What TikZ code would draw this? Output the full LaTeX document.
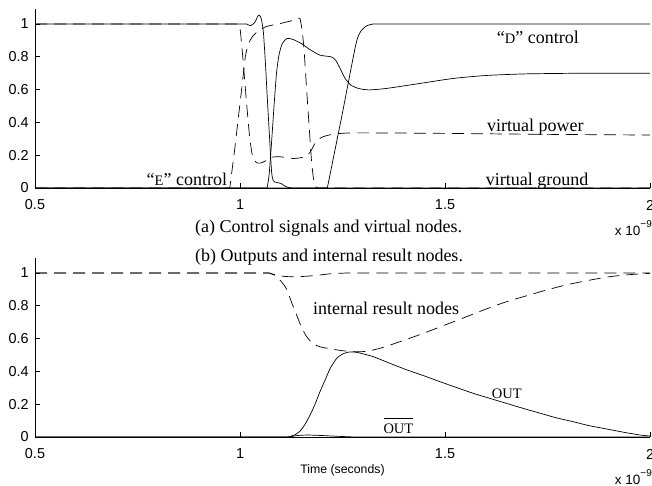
\documentclass[tikz,border=0pt]{standalone}
\usepackage{fontspec}
\setmainfont{Liberation Serif}
\setsansfont{Liberation Sans}

\begin{document}
\begin{tikzpicture}[x=1pt, y=1pt,
        trace/.style={line width=0.7pt, line join=round},
        dtrace/.style={trace, dash pattern=on 12pt off 7pt},
        axisline/.style={line width=0.7pt},
        ticklbl/.style={font=\sffamily\fontsize{14.4}{16}\selectfont, inner sep=0pt},
        note/.style={font=\fontsize{18}{20}\selectfont, inner sep=0pt, anchor=base west},
        caption/.style={font=\fontsize{18}{20}\selectfont, inner sep=0pt},
        smallcap/.style={font=\fontsize{14.5}{16}\selectfont}
    ]
    \useasboundingbox (0,0) rectangle (652,485);

    % both axes
    \foreach \oy in {297,48} {
        \begin{scope}[shift={(-170pt,\oy pt)}, x=410pt, y=164pt]
            \draw[axisline] (0.5,1.09) -- (0.5,0) -- (2,0);
            \foreach \t [count=\i] in {0,0.2,0.4,0.6,0.8,1}
                \draw[axisline] (0.5,\t) -- ++(5pt,0)
                    node[ticklbl, anchor=east, xshift=-11pt] (yt\oy-\i) {\t};
            \foreach \t in {1,1.5,2}
                \draw[axisline] (\t,0) -- ++(0,5pt);
            \foreach \t [count=\i] in {0.5,1,1.5,2}
                \node[ticklbl] (xt\oy-\i) at ([yshift=-17pt]\t,0) {\t};
        \end{scope}
    }

    % (a) control signals
    \begin{scope}[shift={(-170pt,297pt)}, x=410pt, y=164pt]
        \draw[trace] (0.5,1) -- plot[smooth, tension=0.4] coordinates {(1.016,1) (1.026,0.99) (1.036,1.01) (1.043,1.045) (1.047,1.055) (1.052,1.03) (1.057,0.95) (1.062,0.76) (1.067,0.53) (1.072,0.31) (1.077,0.1) (1.081,0.045) (1.09,0.033) (1.1,0.028) (1.108,0.014) (1.118,0.003) (1.13,0)} -- (2,0);
        \draw[trace] (0.5,0) -- plot[smooth, tension=0.4] coordinates {(1.066,0) (1.071,0.08) (1.077,0.28) (1.083,0.5) (1.089,0.7) (1.095,0.81) (1.103,0.88) (1.115,0.912) (1.13,0.905) (1.15,0.88) (1.17,0.845) (1.195,0.81) (1.222,0.8) (1.233,0.78) (1.244,0.73) (1.256,0.67) (1.27,0.628) (1.289,0.607) (1.315,0.598) (1.36,0.608) (1.44,0.638) (1.52,0.668) (1.6,0.686) (1.7,0.696) (1.85,0.7) (2,0.7)};
        \draw[trace] (0.5,0) -- plot[smooth, tension=0.4] coordinates {(1.213,0) (1.25,0.46) (1.283,0.88) (1.296,0.96) (1.31,0.99) (1.325,1)} -- (2,1);
        \draw[dtrace] (0.5,1) -- plot[smooth, tension=0.4] coordinates {(0.995,1) (1.0,0.975) (1.006,0.82) (1.012,0.64) (1.018,0.46) (1.024,0.3) (1.031,0.19) (1.04,0.155) (1.05,0.152) (1.062,0.165) (1.078,0.188) (1.1,0.19) (1.13,0.18) (1.155,0.188) (1.17,0.215) (1.185,0.28) (1.2,0.31) (1.225,0.327) (1.26,0.335) (1.32,0.336) (1.5,0.333) (1.75,0.327) (2,0.323)};
        \draw[dtrace] (0.5,0) -- plot[smooth, tension=0.4] coordinates {(0.975,0) (0.986,0.215) (0.996,0.43) (1.006,0.645) (1.013,0.8) (1.02,0.875) (1.03,0.922) (1.045,0.958) (1.065,0.985) (1.098,1.003) (1.12,1.016) (1.14,1.03) (1.146,1.035) (1.151,0.97) (1.156,0.85) (1.162,0.62) (1.168,0.4) (1.174,0.18) (1.179,0.06) (1.184,0.01) (1.19,0)} -- (2,0);

        \node[note] (dctl) at (1.626,0.882) {“{\fontsize{14.5}{16}\selectfont D}” control};
        \node[note] (vpow) at (1.602,0.343) {virtual power};
        \node[note] (vgnd) at (1.599,0.018) {virtual ground};
        \node[note] (ectl) at (0.772,0.018) {“{\fontsize{14.5}{16}\selectfont E}” control};
    \end{scope}

    % (b) outputs
    \begin{scope}[shift={(-170pt,48pt)}, x=410pt, y=164pt]
        \draw[dtrace] (0.5,1) -- plot[smooth, tension=0.4] coordinates {(1.07,1) (1.09,0.987) (1.11,0.979) (1.14,0.977) (1.18,0.984) (1.22,0.995) (1.26,1)} -- (2,1);
        \draw[dtrace] (0.5,1) -- plot[smooth, tension=0.4] coordinates {(1.072,1) (1.086,0.983) (1.1,0.95) (1.114,0.9) (1.126,0.82) (1.138,0.744) (1.15,0.67) (1.163,0.61) (1.179,0.568) (1.195,0.55) (1.22,0.538) (1.25,0.526) (1.285,0.52) (1.31,0.523) (1.34,0.54) (1.37,0.564) (1.4,0.59) (1.447,0.632) (1.5,0.683) (1.553,0.734) (1.6,0.78) (1.65,0.825) (1.7,0.862) (1.75,0.898) (1.8,0.93) (1.85,0.955) (1.9,0.977) (1.95,0.99) (2,0.998)};
        \draw[trace] (0.5,0) -- plot[smooth, tension=0.4] coordinates {(1.112,0) (1.122,0.003) (1.135,0.015) (1.146,0.035) (1.158,0.075) (1.171,0.134) (1.183,0.2) (1.195,0.276) (1.208,0.35) (1.22,0.419) (1.236,0.48) (1.252,0.508) (1.268,0.519) (1.285,0.516) (1.305,0.504) (1.325,0.49) (1.365,0.45) (1.407,0.409) (1.45,0.372) (1.488,0.337) (1.53,0.3) (1.569,0.266) (1.61,0.235) (1.65,0.205) (1.69,0.175) (1.732,0.145) (1.77,0.118) (1.813,0.093) (1.85,0.07) (1.894,0.049) (1.94,0.027) (1.976,0.012) (2,0.006)};
        \draw[trace] (0.5,0) -- plot[smooth, tension=0.4] coordinates {(1.12,0) (1.14,0.009) (1.165,0.012) (1.2,0.009) (1.24,0.004) (1.28,0)} -- (2,0);

        \node[note] (intres) at (1.178,0.744) {internal result nodes};
        \node[note, smallcap] (outlbl) at (1.614,0.236) {OUT};
        \node[note, smallcap] (outbar) at (1.3495,0.023) {\vbox{\hrule height 0.6pt\kern 4.8pt\hbox{OUT}}};
    \end{scope}

    \node[caption] (capa) at (328.5,257) {(a) Control signals and virtual nodes.};
    \node[caption] (capb) at (329,228.3) {(b) Outputs and internal result nodes.};
    \node[font=\sffamily\fontsize{12.3}{14}\selectfont, inner sep=0pt] (tlbl) at (342.5,15) {Time (seconds)};
    \node[ticklbl, font=\sffamily\fontsize{13.5}{15}\selectfont, anchor=base east] (expa) at (652,250) {x 10\raisebox{8pt}{\fontsize{10}{10}\selectfont −9}};
    \node[ticklbl, font=\sffamily\fontsize{13.5}{15}\selectfont, anchor=base east] (expb) at (652,1) {x 10\raisebox{8pt}{\fontsize{10}{10}\selectfont −9}};
\end{tikzpicture}
\end{document}
